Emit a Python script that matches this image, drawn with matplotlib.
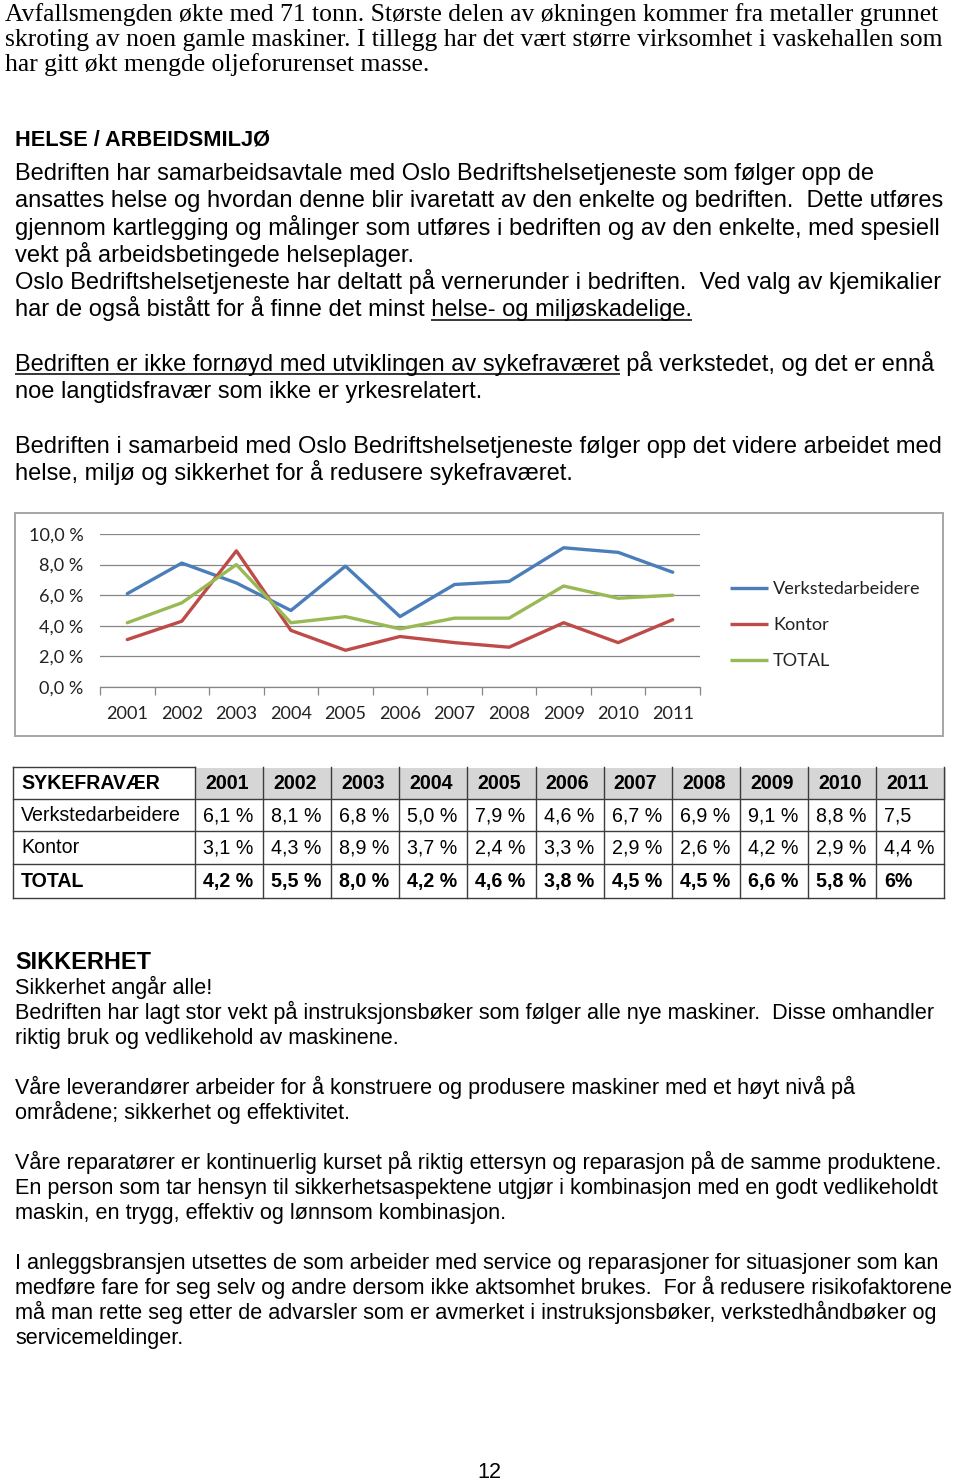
import matplotlib
matplotlib.use('Agg')
import matplotlib.pyplot as plt
from matplotlib.patches import Rectangle
import numpy as np

# ---------------- data ----------------
years = ['2001', '2002', '2003', '2004', '2005', '2006', '2007', '2008', '2009', '2010', '2011']
verksted = [6.1, 8.1, 6.8, 5.0, 7.9, 4.6, 6.7, 6.9, 9.1, 8.8, 7.5]
kontor = [3.1, 4.3, 8.9, 3.7, 2.4, 3.3, 2.9, 2.6, 4.2, 2.9, 4.4]
total = [4.2, 5.5, 8.0, 4.2, 4.6, 3.8, 4.5, 4.5, 6.6, 5.8, 6.0]
series_names = ['Verkstedarbeidere', 'Kontor', 'TOTAL']
y_ticks = [0, 2, 4, 6, 8, 10]
y_tick_labels = ['0,0 %', '2,0 %', '4,0 %', '6,0 %', '8,0 %', '10,0 %']

table_title = 'SYKEFRAVÆR'
verksted_labels = ['6,1 %', '8,1 %', '6,8 %', '5,0 %', '7,9 %', '4,6 %', '6,7 %', '6,9 %', '9,1 %', '8,8 %', '7,5']
kontor_labels = ['3,1 %', '4,3 %', '8,9 %', '3,7 %', '2,4 %', '3,3 %', '2,9 %', '2,6 %', '4,2 %', '2,9 %', '4,4 %']
total_labels = ['4,2 %', '5,5 %', '8,0 %', '4,2 %', '4,6 %', '3,8 %', '4,5 %', '4,5 %', '6,6 %', '5,8 %', '6%']

serif_lines = [
    "Avfallsmengden økte med 71 tonn. Største delen av økningen kommer fra metaller grunnet",
    "skroting av noen gamle maskiner. I tillegg har det vært større virksomhet i vaskehallen som",
    "har gitt økt mengde oljeforurenset masse.",
]
helse_heading = "HELSE / ARBEIDSMILJØ"
helse_lines = [
    "Bedriften har samarbeidsavtale med Oslo Bedriftshelsetjeneste som følger opp de",
    "ansattes helse og hvordan denne blir ivaretatt av den enkelte og bedriften.  Dette utføres",
    "gjennom kartlegging og målinger som utføres i bedriften og av den enkelte, med spesiell",
    "vekt på arbeidsbetingede helseplager.",
    "Oslo Bedriftshelsetjeneste har deltatt på vernerunder i bedriften.  Ved valg av kjemikalier",
    "har de også bistått for å finne det minst helse- og miljøskadelige.",
    "",
    "Bedriften er ikke fornøyd med utviklingen av sykefraværet på verkstedet, og det er ennå",
    "noe langtidsfravær som ikke er yrkesrelatert.",
    "",
    "Bedriften i samarbeid med Oslo Bedriftshelsetjeneste følger opp det videre arbeidet med",
    "helse, miljø og sikkerhet for å redusere sykefraværet.",
]
underlined = {5: "helse- og miljøskadelige.",
              7: "Bedriften er ikke fornøyd med utviklingen av sykefraværet"}

sikker_heading = "SIKKERHET"
sikker_lines = [
    "Sikkerhet angår alle!",
    "Bedriften har lagt stor vekt på instruksjonsbøker som følger alle nye maskiner.  Disse omhandler",
    "riktig bruk og vedlikehold av maskinene.",
    "",
    "Våre leverandører arbeider for å konstruere og produsere maskiner med et høyt nivå på",
    "områdene; sikkerhet og effektivitet.",
    "",
    "Våre reparatører er kontinuerlig kurset på riktig ettersyn og reparasjon på de samme produktene.",
    "En person som tar hensyn til sikkerhetsaspektene utgjør i kombinasjon med en godt vedlikeholdt",
    "maskin, en trygg, effektiv og lønnsom kombinasjon.",
    "",
    "I anleggsbransjen utsettes de som arbeider med service og reparasjoner for situasjoner som kan",
    "medføre fare for seg selv og andre dersom ikke aktsomhet brukes.  For å redusere risikofaktorene",
    "må man rette seg etter de advarsler som er avmerket i instruksjonsbøker, verkstedhåndbøker og",
    "servicemeldinger.",
]
page_number = "12"

# ---------------- styles ----------------
SERIF = 'Liberation Serif'
SANS = 'Liberation Sans'
CHART = 'Lato'
colors = ['#4A7EBB', '#BE4B48', '#98B954']

W, H = 960, 1482
fig = plt.figure(figsize=(W / 100, H / 100), dpi=100)
fig.patch.set_facecolor('white')
page = fig.add_axes([0, 0, 1, 1])
page.set_xlim(0, W)
page.set_ylim(H, 0)
page.axis('off')
renderer = fig.canvas.get_renderer()


def tw(s, size, family, weight='normal'):
    t = page.text(0, 0, s, fontsize=size, family=family, fontweight=weight)
    w = t.get_window_extent(renderer).width
    t.remove()
    return w


def fit(s, family, target, weight='normal'):
    return 10.0 * target / tw(s, 10, family, weight)


def put(x, y, s, size, family, weight='normal', ha='left', va='baseline', color='black'):
    return page.text(x, y, s, fontsize=size, family=family, fontweight=weight,
                     ha=ha, va=va, color=color)


def underline(x, y, line, part, size, family):
    i = line.index(part)
    x1 = x + tw(line[:i + len(part)], size, family)
    x0 = x1 - tw(part, size, family)
    page.plot([x0, x1], [y + 3.5, y + 3.5], color='black', lw=1.1, solid_capstyle='butt')


# ---------------- top serif paragraph ----------------
s_serif = fit(serif_lines[0], SERIF, 932)
for i, ln in enumerate(serif_lines):
    put(5, 21 + 25 * i, ln, s_serif, SERIF)

# ---------------- HELSE section ----------------
s_h1 = fit(helse_heading, SANS, 253, 'bold')
put(15, 146, helse_heading, s_h1, SANS, 'bold')
s_body = fit(helse_lines[0], SANS, 862)
for i, ln in enumerate(helse_lines):
    if not ln:
        continue
    y = 180 + 27.25 * i
    put(15, y, ln, s_body, SANS)
    if i in underlined:
        underline(15, y, ln, underlined[i], s_body, SANS)

# ---------------- chart ----------------
page.add_patch(Rectangle((15, 513), 928, 223, fill=False, edgecolor='#A6A6A6', lw=1.4))


def px_axes(x0, y0, x1, y1):
    return fig.add_axes([x0 / W, 1 - y1 / H, (x1 - x0) / W, (y1 - y0) / H])


ax = px_axes(100, 534, 700, 687)
ax.patch.set_alpha(0)
xs = np.arange(len(years))
for vals, name, c in zip([verksted, kontor, total], series_names, colors):
    ax.plot(xs, vals, color=c, lw=2.4, solid_joinstyle='round', solid_capstyle='round', label=name)
ax.set_xlim(-0.5, len(years) - 0.5)
ax.set_ylim(0, 10)
s_chart = fit('Verkstedarbeidere', CHART, 148)
ax.set_yticks(y_ticks)
ax.set_yticklabels(y_tick_labels, fontsize=s_chart, family=CHART, color='#222222')
ax.yaxis.grid(True, color='#868686', lw=0.9)
ax.set_axisbelow(True)
for sp in ['left', 'right', 'top']:
    ax.spines[sp].set_visible(False)
ax.spines['bottom'].set_color('#868686')
ax.spines['bottom'].set_linewidth(0.9)
ax.tick_params(axis='y', length=0, pad=12)
ax.set_xticks(xs)
ax.set_xticklabels(years, fontsize=s_chart, family=CHART, color='#222222')
ax.tick_params(axis='x', which='major', length=0, pad=13.5)
ax.set_xticks(np.arange(-0.5, len(years), 1.0), minor=True)
ax.tick_params(axis='x', which='minor', length=6, width=0.9, color='#868686')

for k, (name, c) in enumerate(zip(series_names, colors)):
    yy = 588 + 36 * k
    page.plot([730, 768], [yy, yy], color=c, lw=2.4, solid_capstyle='butt')
    put(773, yy + 1, name, s_chart, CHART, va='center', color='#222222')

# ---------------- table ----------------
row_edges = [767, 799, 831, 864, 898]
col_edges = [13] + [195 + 68.1 * k for k in range(len(years) + 1)]
page.add_patch(Rectangle((col_edges[1], 768), 946 - col_edges[1], row_edges[1] - 768,
                         facecolor='#D6D6D6', edgecolor='none'))
lc = '#3C3C3C'
page.plot([col_edges[0], col_edges[1]], [row_edges[0], row_edges[0]], color=lc, lw=1.0)
for ye in row_edges[1:]:
    page.plot([col_edges[0], col_edges[-1]], [ye, ye], color=lc, lw=1.0)
for xe in col_edges:
    page.plot([xe, xe], [row_edges[0], row_edges[-1]], color=lc, lw=1.0)

s_tab = fit('Verkstedarbeidere', SANS, 160)
s_tabb = fit(table_title, SANS, 139, 'bold')
row_base = [789, 821, 853, 887]
put(21, row_base[0], table_title, s_tabb, SANS, 'bold')
for j, yr in enumerate(years):
    put((col_edges[j + 1] + col_edges[j + 2]) / 2 - 2, row_base[0], yr, s_tabb, SANS, 'bold', ha='center')
rows = [(series_names[0], verksted_labels, 'normal'),
        (series_names[1], kontor_labels, 'normal'),
        (series_names[2], total_labels, 'bold')]
for r, (name, labels, wt) in enumerate(rows):
    size = s_tabb if wt == 'bold' else s_tab
    put(21, row_base[r + 1], name, size, SANS, wt)
    for j, lab in enumerate(labels):
        put(col_edges[j + 1] + 8, row_base[r + 1], lab, size, SANS, wt)

# ---------------- SIKKERHET section ----------------
s_h2 = fit(sikker_heading, SANS, 135, 'bold')
put(15, 969, sikker_heading, s_h2, SANS, 'bold')
s_body2 = fit(sikker_lines[1], SANS, 925)
for i, ln in enumerate(sikker_lines):
    if ln:
        put(15, 994 + 25 * i, ln, s_body2, SANS)

put(489, 1478, page_number, s_body2, SANS, ha='center')

fig.savefig('out.png', dpi=100, facecolor='white')
